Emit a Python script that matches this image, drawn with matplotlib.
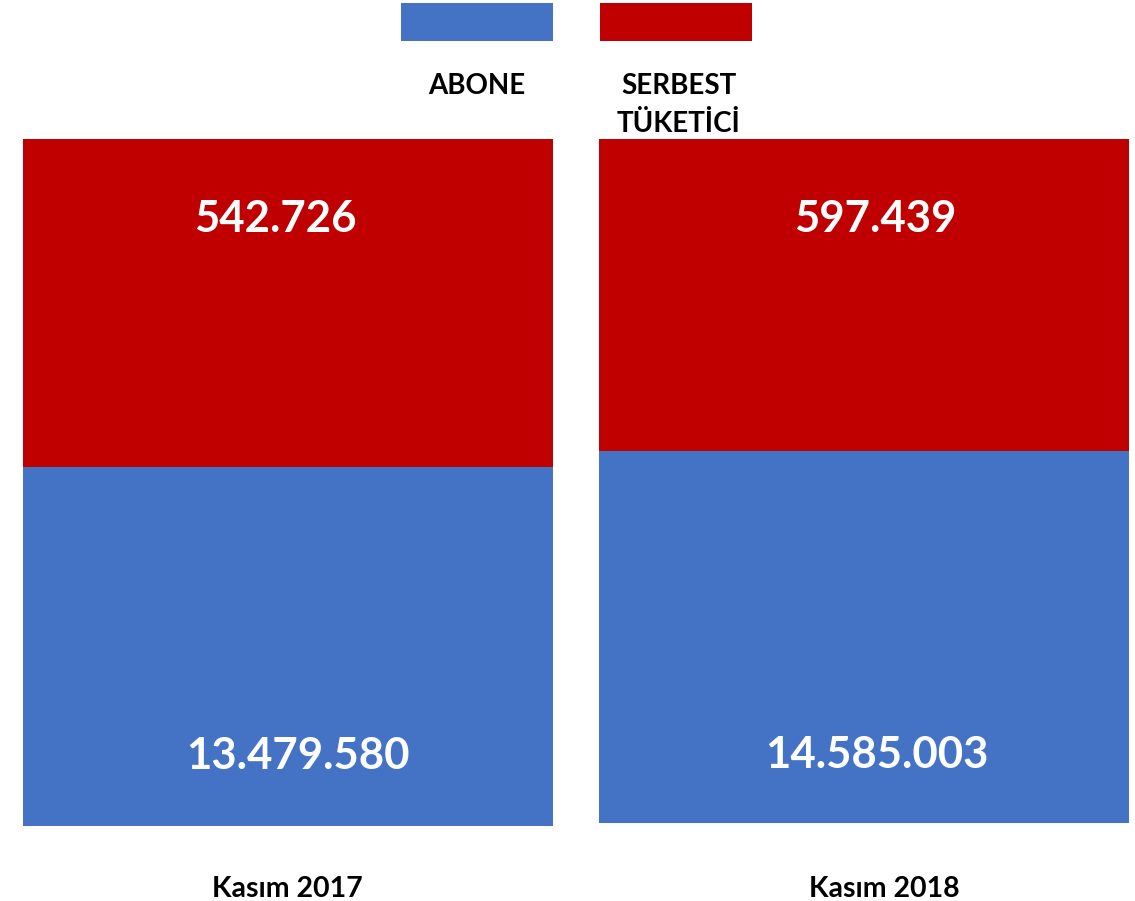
import matplotlib
matplotlib.use("Agg")
import matplotlib.pyplot as plt
from matplotlib.patches import Rectangle

# ---- data ----
categories = ["Kasım 2017", "Kasım 2018"]
series_names = ["ABONE", "SERBEST\nTÜKETİCİ"]
abone_values = [13479580, 14585003]
serbest_values = [542726, 597439]
# segment extents as drawn in the picture (display units, not proportional to values)
abone_drawn = [359, 372]
serbest_drawn = [328, 312]
base_drawn = [75, 78]

colors = ["#4472C4", "#C00000"]
FONT = ["Lato", "DejaVu Sans"]

def fmt(v):
    return f"{v:,}".replace(",", ".")

fig = plt.figure(figsize=(11.35, 9.01), dpi=100)
ax = fig.add_axes([0, 0, 1, 1])
ax.set_xlim(0, 1135)
ax.set_ylim(0, 901)
ax.axis("off")

centers = [287.5, 864]
width = 530
red_label_dx = [-12, 11]
blue_label_dx = [10, 13]
blue_label_dy = [70, 68]
cat_dx = [0, 20]

ax.bar(centers, abone_drawn, width=width, bottom=base_drawn, color=colors[0], linewidth=0)
tops_blue = [b + h for b, h in zip(base_drawn, abone_drawn)]
ax.bar(centers, serbest_drawn, width=width, bottom=tops_blue, color=colors[1], linewidth=0)

for i, c in enumerate(centers):
    top = tops_blue[i] + serbest_drawn[i]
    ax.text(c + red_label_dx[i], top - 80, fmt(serbest_values[i]), ha="center", va="center",
            color="white", fontsize=31.5, fontweight="bold", family=FONT)
    ax.text(c + blue_label_dx[i], base_drawn[i] + blue_label_dy[i], fmt(abone_values[i]),
            ha="center", va="center",
            color="white", fontsize=31.5, fontweight="bold", family=FONT)
    ax.text(c + cat_dx[i], 12, categories[i], ha="center", va="center",
            color="black", fontsize=20.5, fontweight="bold", family=FONT)

# legend
leg_x = [477, 676]
for i, name in enumerate(series_names):
    ax.add_patch(Rectangle((leg_x[i] - 76, 860), 152, 38, color=colors[i], linewidth=0))
    ax.text(leg_x[i] + (3 if i else 0), 828, name, ha="center", va="top",
            color="black", fontsize=20, fontweight="bold", family=FONT, linespacing=1.55)

fig.savefig("out.png", dpi=100)
